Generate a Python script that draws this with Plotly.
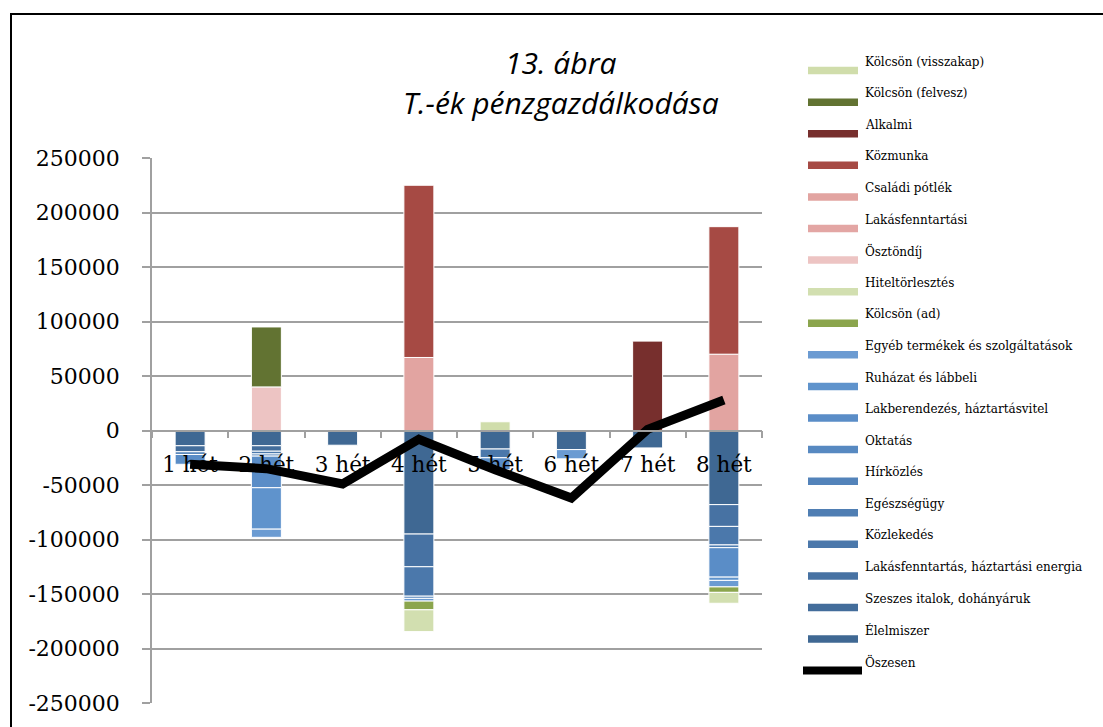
import plotly.graph_objects as go

# ---- data ---------------------------------------------------------------
weeks = ["1 hét", "2 hét", "3 hét", "4 hét", "5 hét", "6 hét", "7 hét", "8 hét"]

# expenses (negative), listed from the zero line downward
elelmiszer = [-14000, -14000, -13500, -95000, -17000, -17500, -16000, -68000]
szeszes = [-5500, -5000, None, None, None, None, None, None]
lakas_energia = [None, None, None, -30000, None, None, None, -20000]
kozlekedes = [None, -2500, None, -27000, -8000, None, None, -17000]
egeszsegugy = [None, None, None, None, None, None, None, -2500]
hirkozles = [-2500, -2000, None, -2000, None, None, None, None]
oktatas = [None, None, None, None, None, None, None, None]
lakberendezes = [-9000, -29000, None, None, -11000, None, None, -27000]
ruhazat = [None, -38000, None, None, None, None, None, -3000]
egyeb = [None, -7500, None, -2500, None, -8500, None, -6000]
kolcson_ad = [None, None, None, -8000, None, None, None, -5000]
hiteltorlesztes = [None, None, None, -20000, None, None, None, -10000]

# incomes (positive), listed from the zero line upward
osztondij = [None, 40000, None, None, None, None, None, None]
lakasfenntartasi = [None, None, None, None, None, None, None, None]
csaladi_potlek = [None, None, None, 67000, None, None, None, 70000]
kozmunka = [None, None, None, 158000, None, None, None, 117000]
alkalmi = [None, None, None, None, None, None, 82000, None]
kolcson_felvesz = [None, 55000, None, None, None, None, None, None]
kolcson_visszakap = [None, None, None, None, 8000, None, None, None]

# running balance
osszesen = [-31000, -35000, -49000, -8000, -36000, -62000, 1000, 28000]

y_ticks = [250000, 200000, 150000, 100000, 50000, 0,
           -50000, -100000, -150000, -200000, -250000]
y_tick_text = ["250000", "200000", "150000", "100000", "50000", "0",
               "-50000", "-100000", "-150000", "-200000", "-250000"]

# (name, values, colour) in stacking order
series = [
    ("Élelmiszer", elelmiszer, "#3F6893"),
    ("Szeszes italok, dohányáruk", szeszes, "#436D9B"),
    ("Lakásfenntartás, háztartási energia", lakas_energia, "#4772A3"),
    ("Közlekedés", kozlekedes, "#4B78AB"),
    ("Egészségügy", egeszsegugy, "#4F7EB3"),
    ("Hírközlés", hirkozles, "#5383BA"),
    ("Oktatás", oktatas, "#5789C1"),
    ("Lakberendezés, háztartásvitel", lakberendezes, "#5A8DC7"),
    ("Ruházat és lábbeli", ruhazat, "#5F93CC"),
    ("Egyéb termékek és szolgáltatások", egyeb, "#6B9BD2"),
    ("Kölcsön (ad)", kolcson_ad, "#8BA54D"),
    ("Hiteltörlesztés", hiteltorlesztes, "#D2DFB0"),
    ("Ösztöndíj", osztondij, "#EDC4C3"),
    ("Lakásfenntartási", lakasfenntartasi, "#E3A6A4"),
    ("Családi pótlék", csaladi_potlek, "#E2A4A1"),
    ("Közmunka", kozmunka, "#A64A44"),
    ("Alkalmi", alkalmi, "#772F2D"),
    ("Kölcsön (felvesz)", kolcson_felvesz, "#627332"),
    ("Kölcsön (visszakap)", kolcson_visszakap, "#D0DDAB"),
]
total_name, total_color = "Öszesen", "#000000"

# ---- layout geometry (pixels) ----------------------------------------------
W, H = 1103, 727
PL, PR, PT, PB = 152, 762, 158, 703
GRID = "#A0A0A0"
SERIF = "DejaVu Serif"


def px_x(px):
    return (px - PL) / (PR - PL)


def px_y(py):
    return (PB - py) / (PB - PT)


fig = go.Figure()

for name, vals, col in series:
    fig.add_trace(go.Bar(
        x=weeks, y=vals, name=name,
        marker=dict(color=col, line=dict(color="white", width=1)),
        showlegend=False,
    ))

fig.add_trace(go.Scatter(
    x=weeks, y=osszesen, name=total_name, mode="lines",
    line=dict(color=total_color, width=9),
    showlegend=False,
))

# ---- hand-drawn legend: text above a wide colour swatch ------------------
shapes = []
annotations = []
legend_items = [(n, c) for n, _, c in reversed(series)] + [(total_name, total_color)]
for i, (name, col) in enumerate(legend_items):
    ty = 61.7 + 31.58 * i
    sy = ty + 8.9
    is_total = name == total_name
    x0, x1 = (803, 862) if is_total else (808, 858)
    shapes.append(dict(
        type="line", xref="paper", yref="paper",
        x0=px_x(x0), x1=px_x(x1), y0=px_y(sy), y1=px_y(sy),
        line=dict(color=col, width=8 if is_total else 7.5),
    ))
    annotations.append(dict(
        text=name, xref="paper", yref="paper",
        x=px_x(863), y=px_y(ty), xanchor="left", yanchor="middle",
        showarrow=False, font=dict(family=SERIF, size=12, color="#000"),
    ))

# chart title, two centred italic lines
for txt, cy in (("13. ábra", 63), ("T.-ék pénzgazdálkodása", 103)):
    annotations.append(dict(
        text=txt, xref="paper", yref="paper",
        x=px_x(561), y=px_y(cy), xanchor="center", yanchor="middle",
        showarrow=False,
        font=dict(family="Open Sans", size=30, color="#000", style="italic"),
    ))

# outer frame
shapes.append(dict(
    type="rect", xref="paper", yref="paper",
    x0=px_x(11), x1=px_x(1115), y0=px_y(740), y1=px_y(14),
    line=dict(color="#000", width=2), fillcolor="rgba(0,0,0,0)", layer="above",
))

fig.update_layout(
    width=W, height=H,
    margin=dict(l=PL, r=W - PR, t=PT, b=H - PB, pad=0),
    barmode="relative",
    bargap=0.607,
    paper_bgcolor="white",
    plot_bgcolor="white",
    showlegend=False,
    shapes=shapes,
    annotations=annotations,
    xaxis=dict(
        type="category", anchor="free", position=0.5,
        showline=True, linecolor=GRID, linewidth=1.5,
        ticks="outside", tickson="boundaries", ticklen=7,
        tickcolor=GRID, tickwidth=1.5,
        showgrid=False, zeroline=False,
        tickfont=dict(family=SERIF, size=21.5, color="#000"),
        ticklabelstandoff=15,
    ),
    yaxis=dict(
        range=[-250000, 250000],
        tickmode="array", tickvals=y_ticks, ticktext=y_tick_text,
        showline=True, linecolor=GRID, linewidth=1.5,
        ticks="outside", ticklen=8, tickcolor=GRID, tickwidth=1.5,
        showgrid=True, gridcolor=GRID, gridwidth=1.5,
        zeroline=False,
        tickfont=dict(family=SERIF, size=22, color="#000"),
        ticklabelstandoff=18,
    ),
)

fig.write_html("out.html")
